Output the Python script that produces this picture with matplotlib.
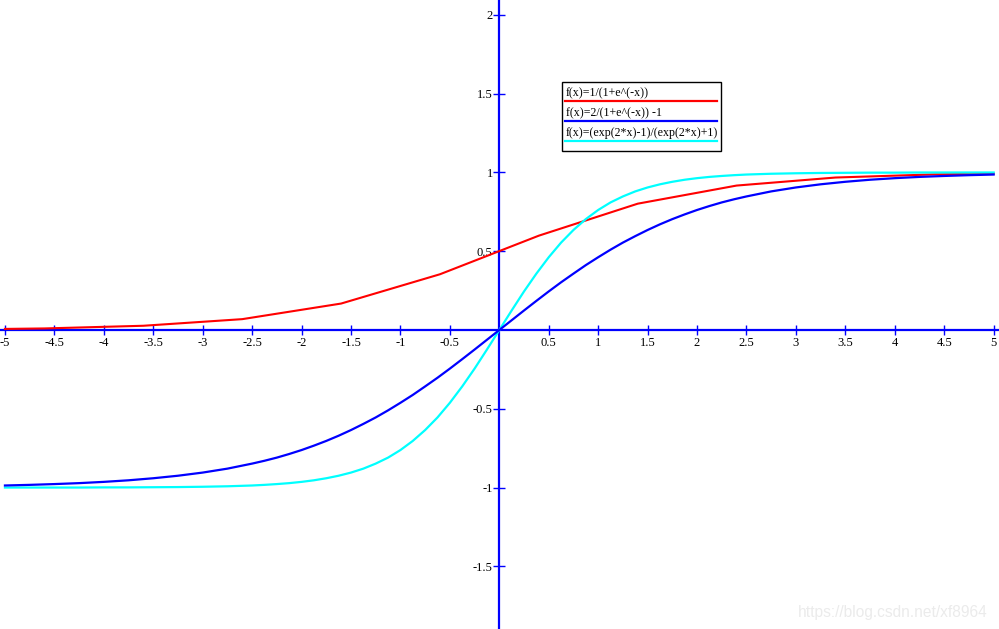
import matplotlib
matplotlib.use("Agg")
import matplotlib.pyplot as plt
from matplotlib.patches import Rectangle
from matplotlib.ticker import FixedLocator, FuncFormatter

# ---- data ----
red_x = [-5.0, -4.6, -3.6, -2.6, -1.6, -0.6, 0.4, 1.4, 2.4, 3.4, 4.4, 5.0]
red_y = [0.007, 0.010, 0.027, 0.069, 0.168, 0.354, 0.599, 0.802, 0.917, 0.968, 0.988, 0.993]

curve_x = [-5.0, -4.75, -4.5, -4.25, -4.0, -3.75, -3.5, -3.25, -3.0, -2.75, -2.5,
           -2.375, -2.25, -2.125, -2.0, -1.875, -1.75, -1.625, -1.5, -1.375, -1.25,
           -1.125, -1.0, -0.875, -0.75, -0.625, -0.5, -0.375, -0.25, -0.125, 0.0,
           0.125, 0.25, 0.375, 0.5, 0.625, 0.75, 0.875, 1.0, 1.125, 1.25,
           1.375, 1.5, 1.625, 1.75, 1.875, 2.0, 2.125, 2.25, 2.375, 2.5,
           2.75, 3.0, 3.25, 3.5, 3.75, 4.0, 4.25, 4.5, 4.75, 5.0]
blue_y = [-0.987, -0.983, -0.978, -0.972, -0.964, -0.954, -0.941, -0.925, -0.905, -0.880, -0.848,
          -0.830, -0.810, -0.787, -0.762, -0.734, -0.704, -0.671, -0.635, -0.596, -0.555,
          -0.510, -0.462, -0.412, -0.358, -0.303, -0.245, -0.185, -0.124, -0.062, 0.0,
          0.062, 0.124, 0.185, 0.245, 0.303, 0.358, 0.412, 0.462, 0.510, 0.555,
          0.596, 0.635, 0.671, 0.704, 0.734, 0.762, 0.787, 0.810, 0.830, 0.848,
          0.880, 0.905, 0.925, 0.941, 0.954, 0.964, 0.972, 0.978, 0.983, 0.987]
cyan_y = [-1.000, -1.000, -1.000, -1.000, -0.999, -0.999, -0.998, -0.997, -0.995, -0.992, -0.987,
          -0.983, -0.978, -0.972, -0.964, -0.954, -0.941, -0.925, -0.905, -0.880, -0.848,
          -0.810, -0.762, -0.704, -0.635, -0.555, -0.462, -0.358, -0.245, -0.124, 0.0,
          0.124, 0.245, 0.358, 0.462, 0.555, 0.635, 0.704, 0.762, 0.810, 0.848,
          0.880, 0.905, 0.925, 0.941, 0.954, 0.964, 0.972, 0.978, 0.983, 0.987,
          0.992, 0.995, 0.997, 0.998, 0.999, 0.999, 1.000, 1.000, 1.000, 1.000]

x_ticks = [-5, -4.5, -4, -3.5, -3, -2.5, -2, -1.5, -1, -0.5, 0.5, 1, 1.5, 2, 2.5, 3, 3.5, 4, 4.5, 5]
y_ticks = [-1.5, -1, -0.5, 0.5, 1, 1.5, 2]

legend_labels = ["f(x)=1/(1+e^(-x))", "f(x)=2/(1+e^(-x)) -1", "f(x)=(exp(2*x)-1)/(exp(2*x)+1)"]
colors = ["#ff0000", "#0000ff", "#00ffff"]
watermark = "https://blog.csdn.net/xf8964"

W, H = 999, 629
fig = plt.figure(figsize=(W / 100, H / 100), dpi=100)
ax = fig.add_axes([0, 0, 1, 1])
ax.set_xlim(-5.05, 5.054)
ax.set_ylim(-1.898, 2.095)

ax.plot(red_x, red_y, color=colors[0], lw=1.5, zorder=3)
ax.plot(curve_x, cyan_y, color=colors[2], lw=1.6, zorder=3)
ax.plot(curve_x, blue_y, color=colors[1], lw=1.6, zorder=4)

for s in ["top", "right"]:
    ax.spines[s].set_visible(False)
for s in ["left", "bottom"]:
    ax.spines[s].set_position("zero")
    ax.spines[s].set_color("#0000ff")
    ax.spines[s].set_linewidth(1.6)
    ax.spines[s].set_zorder(2)

fmt = FuncFormatter(lambda v, p: ("%g" % v))
ax.xaxis.set_major_locator(FixedLocator(x_ticks))
ax.yaxis.set_major_locator(FixedLocator(y_ticks))
ax.xaxis.set_major_formatter(fmt)
ax.yaxis.set_major_formatter(fmt)
ax.tick_params(axis="x", direction="inout", length=7.5, width=1.0, color="#0000ff",
               pad=1.5, labelsize=9)
ax.tick_params(axis="y", direction="inout", length=8.5, width=1.0, color="#0000ff",
               pad=0.5, labelsize=9)
for lab in ax.get_xticklabels() + ax.get_yticklabels():
    lab.set_fontfamily("Liberation Serif")
    lab.set_color("black")

# legend box (text over coloured line)
def fx(px):
    return px / W

def fy(py):
    return 1 - py / H

fig.patches.append(Rectangle((fx(561.5), fy(150.5)), fx(721) - fx(561.5), fy(81.5) - fy(150.5),
                             transform=fig.transFigure, fill=True, facecolor="white",
                             edgecolor="black", lw=1.0, zorder=5))
text_base = [96, 116, 136]
line_y = [100.5, 120.5, 140.5]
for i in range(3):
    fig.text(fx(566), fy(text_base[i]), legend_labels[i], fontsize=8.6,
             family="Liberation Serif", color="black", va="baseline", ha="left", zorder=6)
    fig.lines.append(plt.Line2D([fx(565), fx(717)], [fy(line_y[i]), fy(line_y[i])],
                                transform=fig.transFigure, color=colors[i], lw=1.6, zorder=6))

fig.text(fx(988), fy(617), watermark, fontsize=11.2, family="Liberation Sans",
         color="#ebebeb", ha="right", va="baseline")

fig.savefig("out.png", dpi=100, facecolor="white")
